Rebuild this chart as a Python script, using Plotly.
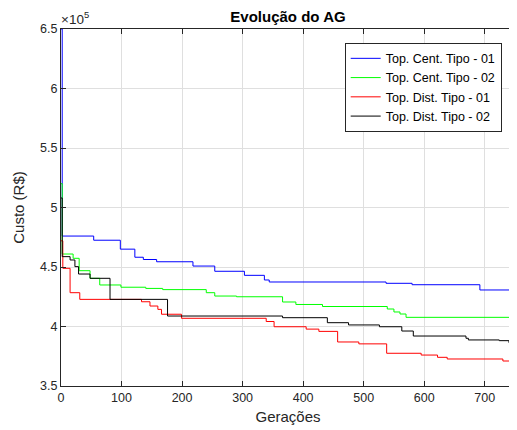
import plotly.graph_objects as go

# Generation breakpoints / cost values (R$) for each series (step curves)
cent1_gen = [0, 2, 54, 98, 122, 136, 158, 218, 254, 303, 336, 344, 537, 580, 692, 750]
cent1_val = [650000, 476000, 472500, 465000, 458200, 456300, 454400, 450800, 446400,
             443000, 439100, 437400, 436300, 435100, 430700, 430700]

cent2_gen = [0, 2, 20, 30, 48, 64, 99, 140, 168, 240, 254, 290, 366, 388, 432, 539, 550, 560, 570, 750]
cent2_val = [520000, 460900, 457300, 446900, 440500, 434900, 433000, 432000, 431000,
             428400, 425600, 425000, 420600, 418500, 416800, 414700, 412200, 410500, 407700, 407700]

dist1_gen = [0, 3, 15, 31, 133, 147, 160, 166, 199, 339, 352, 405, 426, 457, 492, 538, 595, 622, 638, 730, 750]
dist1_val = [472000, 448900, 428400, 422800, 420800, 417200, 414400, 410300, 406900,
             404200, 399800, 397800, 395900, 387000, 385400, 377500, 376000, 374100, 372700, 371000, 371000]

dist2_gen = [0, 2, 15, 23, 29, 48, 81, 176, 366, 440, 475, 526, 563, 582, 669, 673, 724, 740, 750]
dist2_val = [508000, 458700, 455900, 450300, 444100, 440500, 422800, 408800, 407400,
             403200, 401300, 399800, 396200, 392000, 390100, 388700, 388100, 386400, 386400]

series_names = ["Top. Cent. Tipo - 01", "Top. Cent. Tipo - 02", "Top. Dist. Tipo - 01", "Top. Dist. Tipo - 02"]
series_colors = ["#0000ff", "#00ff00", "#ff0000", "#000000"]

y_tickvals = [350000, 400000, 450000, 500000, 550000, 600000, 650000]
y_ticktext = ["3.5", "4", "4.5", "5", "5.5", "6", "6.5"]
x_tickvals = [0, 100, 200, 300, 400, 500, 600, 700]

FONT = "Liberation Sans, Arial, Helvetica, sans-serif"
AXC = "#262626"

# page body has an 8px margin, so the figure is sized to fill the remaining window
W, H = 509, 422

fig = go.Figure()
for g, v, n, c in zip([cent1_gen, cent2_gen, dist1_gen, dist2_gen],
                      [cent1_val, cent2_val, dist1_val, dist2_val],
                      series_names, series_colors):
    fig.add_trace(go.Scatter(x=g, y=v, name=n, mode="lines", line_shape="hv",
                             line=dict(color=c, width=1)))

axis_common = dict(showline=True, linecolor=AXC, linewidth=1, mirror="ticks",
                   ticks="inside", ticklen=5, tickcolor=AXC, showgrid=True,
                   gridcolor="#dfdfdf", gridwidth=1, zeroline=False,
                   tickfont=dict(family=FONT, size=12.5, color=AXC))

fig.update_xaxes(range=[0, 750], tickvals=x_tickvals,
                 title=dict(text="Gerações", font=dict(family=FONT, size=15, color=AXC), standoff=7),
                 **axis_common)
fig.update_yaxes(range=[350000, 650000], tickvals=y_tickvals, ticktext=y_ticktext,
                 title=dict(text="Custo (R$)", font=dict(family=FONT, size=15, color=AXC), standoff=11),
                 **axis_common)

fig.add_annotation(text="×10<sup>5</sup>", xref="paper", yref="paper", x=0, y=1,
                   xanchor="left", yanchor="bottom", showarrow=False,
                   font=dict(family=FONT, size=13.5, color=AXC), xshift=-2, yshift=0)

fig.update_layout(
    width=W, height=H,
    margin=dict(l=53, r=2, t=21, b=44),
    paper_bgcolor="white", plot_bgcolor="white",
    title=dict(text="<b>Evolução do AG</b>", x=0.5, xref="paper", y=1 - 9 / H,
               yref="container", yanchor="middle", xanchor="center",
               font=dict(family=FONT, size=15, color="black")),
    legend=dict(x=0.9707, y=0.9616, xanchor="right", yanchor="top",
                bgcolor="white", bordercolor=AXC, borderwidth=1,
                font=dict(family=FONT, size=12.5, color="black"),
                tracegroupgap=0, itemwidth=30),
    showlegend=True,
)

fig.write_html("out.html")
